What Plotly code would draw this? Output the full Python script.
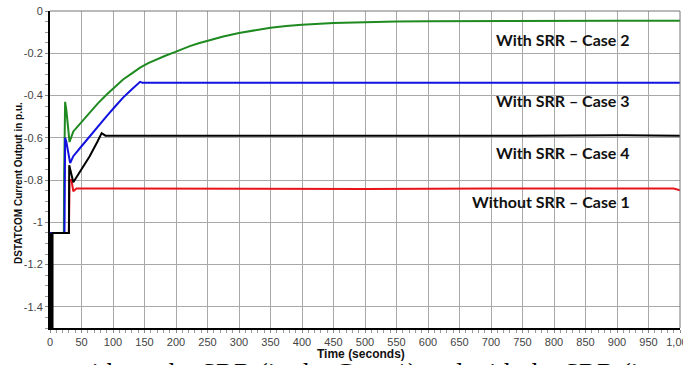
import plotly.graph_objects as go

# ---- data ----
green_x = [0, 22, 22.5, 24, 26, 29, 31, 37, 50, 63, 76, 90, 103, 116, 130, 143, 156, 169, 183, 196,
           209, 222, 236, 249, 262, 275, 300, 325, 350, 375, 400, 450, 500, 550, 600, 650, 700, 750,
           800, 850, 900, 950, 1000]
green_y = [-1.05, -1.05, -0.76, -0.43, -0.47, -0.58, -0.62, -0.57, -0.525, -0.48, -0.437, -0.395,
           -0.358, -0.324, -0.295, -0.268, -0.247, -0.229, -0.212, -0.197, -0.18, -0.166, -0.153,
           -0.142, -0.131, -0.121, -0.104, -0.09, -0.079, -0.071, -0.065, -0.057, -0.053, -0.05,
           -0.049, -0.048, -0.047, -0.047, -0.046, -0.046, -0.046, -0.046, -0.046]

blue_x = [0, 23, 24, 26, 32, 37, 50, 63, 76, 90, 103, 116, 130, 143, 147, 200, 300, 400, 500, 600,
          700, 800, 900, 1000]
blue_y = [-1.05, -1.05, -0.60, -0.62, -0.72, -0.687, -0.64, -0.592, -0.545, -0.497, -0.453, -0.41,
          -0.37, -0.335, -0.34, -0.34, -0.34, -0.342, -0.34, -0.34, -0.34, -0.34, -0.34, -0.34]

black_x = [1, 1, 4, 4, 30, 30.5, 37, 50, 63, 75, 82, 88, 150, 300, 450, 600, 750, 910, 1000]
black_y = [-1.05, -1.5, -1.5, -1.05, -1.05, -0.73, -0.81, -0.75, -0.687, -0.62, -0.578, -0.59,
           -0.59, -0.59, -0.592, -0.59, -0.59, -0.588, -0.59]

red_x = [0, 30, 31, 34, 37, 42, 100, 300, 500, 700, 990, 1000]
red_y = [-1.05, -1.05, -0.80, -0.80, -0.853, -0.84, -0.84, -0.842, -0.842, -0.84, -0.84, -0.848]

x_tick_vals = list(range(0, 1001, 50))
x_tick_text = [f"{v:,}" for v in x_tick_vals]
y_tick_vals = [0, -0.2, -0.4, -0.6, -0.8, -1.0, -1.2, -1.4]
y_tick_text = ["0", "-0.2", "-0.4", "-0.6", "-0.8", "-1", "-1.2", "-1.4"]

labels = ["With SRR – Case 2", "With SRR – Case 3", "With SRR – Case 4", "Without SRR – Case 1"]
label_y = [-0.134, -0.423, -0.67, -0.90]
label_x = 924

fig = go.Figure()
series = [
    (red_x, red_y, "#e8141b"),
    (green_x, green_y, "#1f8a1f"),
    (blue_x, blue_y, "#1212e0"),
    (black_x, black_y, "#000000"),
]
for xs, ys, col in series:
    fig.add_trace(go.Scatter(x=xs, y=ys, mode="lines", line=dict(color=col, width=2),
                             showlegend=False, hoverinfo="skip"))

for t, yv in zip(labels, label_y):
    fig.add_annotation(x=label_x, y=yv, xref="x", yref="y", text=f"<b>{t}</b>",
                       showarrow=False, xanchor="right", yanchor="middle",
                       font=dict(family="Lato", size=16, color="#111111"))

fig.add_annotation(x=(18 - 50) / 630, y=(328 - 183) / 317, xref="paper", yref="paper",
                   text="<b>DSTATCOM Current Output in p.u.</b>", textangle=-90, showarrow=False,
                   xanchor="center", yanchor="middle",
                   font=dict(family="Liberation Sans", size=10, color="#111111"))
fig.add_annotation(x=(361 - 50) / 630, y=(328 - 354) / 317, xref="paper", yref="paper",
                   text="<b>Time (seconds)</b>", showarrow=False,
                   xanchor="center", yanchor="middle",
                   font=dict(family="Liberation Sans", size=12, color="#111111"))
fig.add_annotation(x=(70 - 50) / 630, y=(328 - 356) / 317, xref="paper", yref="paper",
                   text="without the SRR (in the Case 1) and with the SRR (in", showarrow=False,
                   xanchor="left", yanchor="top",
                   font=dict(family="Liberation Serif", size=27, color="#000000"))

fig.add_shape(type="line", xref="paper", yref="paper", x0=0, x1=1, y0=1, y1=1,
              line=dict(color="#777777", width=1))
fig.add_shape(type="line", xref="paper", yref="paper", x0=1, x1=1, y0=0, y1=1,
              line=dict(color="#777777", width=1))

fig.update_layout(
    template="none",
    width=683, height=365,
    margin=dict(l=50, r=3, t=11, b=37, autoexpand=False),
    plot_bgcolor="white", paper_bgcolor="white",
    xaxis=dict(range=[0, 1000], tickmode="array", tickvals=x_tick_vals, ticktext=x_tick_text,
               automargin=False, showgrid=True, gridcolor="#a8a8a8", gridwidth=1,
               showline=True, linecolor="#000000", linewidth=2, ticklabeloverflow="allow",
               ticks="outside", ticklen=3, tickcolor="#888888",
               minor=dict(dtick=10, ticks="outside", ticklen=3, tickcolor="#999999", showgrid=False),
               tickfont=dict(family="Liberation Sans", size=11, color="#444444"),
               zeroline=False),
    yaxis=dict(range=[-1.5, 0], tickmode="array", tickvals=y_tick_vals, ticktext=y_tick_text,
               automargin=False, showgrid=True, gridcolor="#a8a8a8", gridwidth=1,
               showline=True, linecolor="#000000", linewidth=2,
               ticks="outside", ticklen=3, tickcolor="#888888",
               minor=dict(dtick=0.05, ticks="outside", ticklen=3, tickcolor="#999999", showgrid=False),
               tickfont=dict(family="Liberation Sans", size=11, color="#444444"),
               zeroline=False),
)
fig.write_html("out.html", config={"displayModeBar": False},
               post_script="document.body.style.margin='0';document.body.style.padding='0';")
